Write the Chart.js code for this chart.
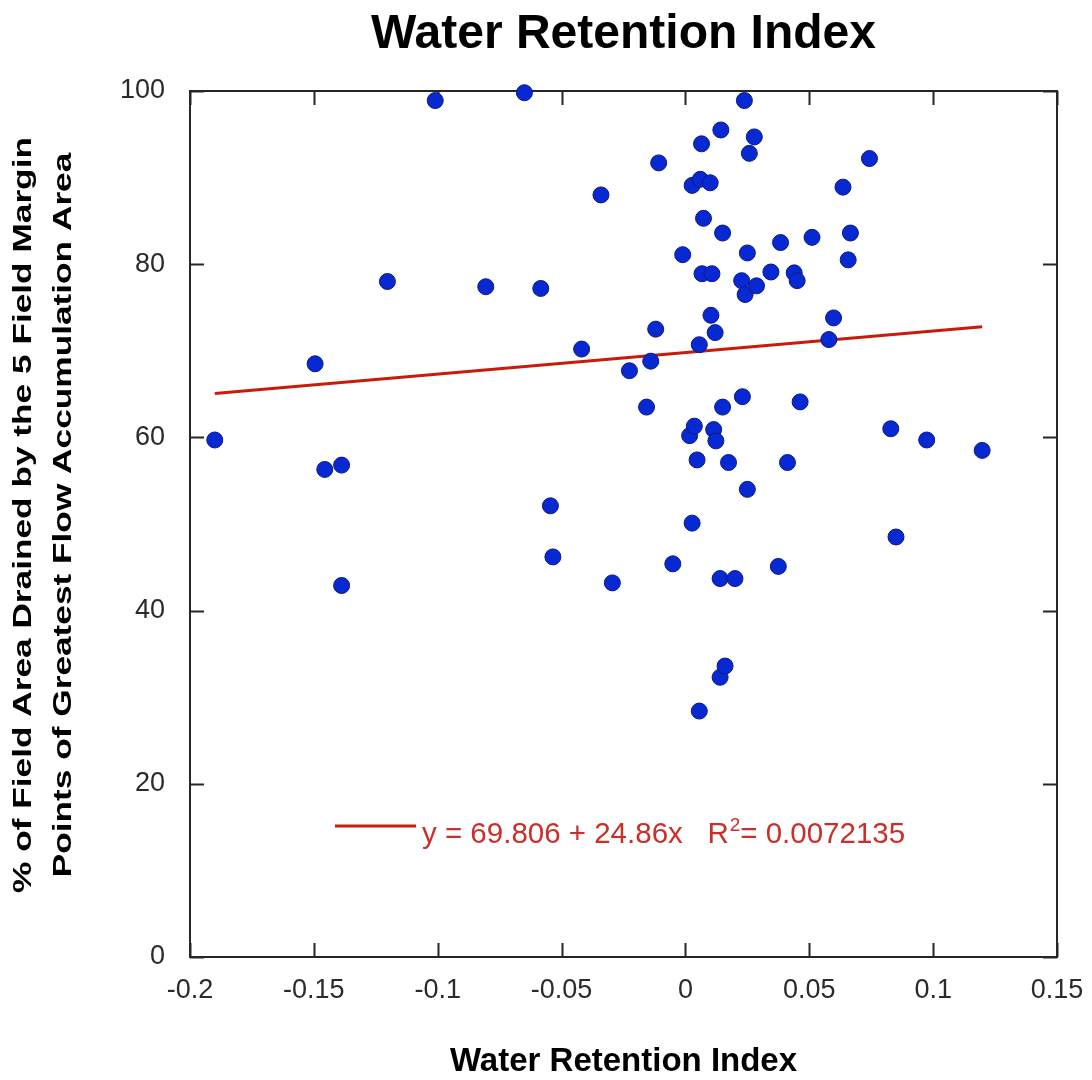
<!DOCTYPE html>
<html>
<head>
<meta charset="utf-8">
<title>Water Retention Index</title>
<script src="https://cdn.jsdelivr.net/npm/chart.js@4.4.0/dist/chart.umd.min.js"></script>
<style>
  html, body { margin: 0; padding: 0; background: #ffffff; }
  #wrap { width: 1092px; height: 1080px; }
</style>
</head>
<body>
<div id="wrap"><canvas id="chart" width="1092" height="1080"></canvas></div>
<script>
// Water Retention Index per field (x) and % of field area drained (y)
const X_VALUES = [
  -0.190, -0.1495, -0.1456, -0.1388, -0.1388, -0.1203, -0.101, -0.0806, -0.065, -0.0584,
  -0.0545, -0.0535, -0.0419, -0.0341, -0.0295, -0.0226, -0.0157, -0.014, -0.012, -0.0108,
  -0.0051, -0.0011, 0.0017, 0.0027, 0.0027, 0.0036, 0.0047, 0.0056, 0.0056, 0.006,
  0.0065, 0.0067, 0.0073, 0.010, 0.0103, 0.0107, 0.0114, 0.012, 0.0123, 0.014,
  0.014, 0.0143, 0.015, 0.015, 0.016, 0.0174, 0.020, 0.0227, 0.023, 0.0238,
  0.0241, 0.025, 0.025, 0.0258, 0.0278, 0.0287, 0.0345, 0.0375, 0.0384, 0.0412,
  0.0439, 0.0451, 0.0463, 0.0511, 0.0579, 0.0598, 0.0636, 0.0657, 0.0666, 0.0743,
  0.0829, 0.085, 0.0974, 0.1198
];
const Y_VALUES = [
  59.7, 68.5, 56.3, 56.8, 42.9, 78.0, 98.9, 77.4, 99.8, 77.2,
  52.1, 46.2, 70.2, 88.0, 43.2, 67.7, 63.5, 68.8, 72.5, 91.7,
  45.4, 81.1, 60.2, 50.1, 89.1, 61.3, 57.4, 70.7, 28.4, 89.8,
  93.9, 78.9, 85.3, 89.4, 74.1, 78.9, 60.9, 72.1, 59.6, 43.7,
  32.3, 95.5, 83.6, 63.5, 33.6, 57.1, 43.7, 78.1, 64.7, 98.9,
  76.5, 81.3, 54.0, 92.8, 94.7, 77.5, 79.1, 45.1, 82.5, 57.1,
  79.0, 78.1, 64.1, 83.1, 71.3, 73.8, 88.9, 80.5, 83.6, 92.2,
  61.0, 48.5, 59.7, 58.5
];

// Axis ticks
const X_TICKS = [-0.2, -0.15, -0.1, -0.05, 0, 0.05, 0.1, 0.15];
const X_TICK_LABELS = ['-0.2', '-0.15', '-0.1', '-0.05', '0', '0.05', '0.1', '0.15'];
const Y_TICKS = [0, 20, 40, 60, 80, 100];
const Y_TICK_LABELS = ['0', '20', '40', '60', '80', '100'];

// Linear fit reported in the legend
const FIT_INTERCEPT = 69.806;
const FIT_SLOPE = 24.86;
const FIT_R2 = '0.0072135';

const TITLE = 'Water Retention Index';
const X_TITLE = 'Water Retention Index';
const Y_TITLE = ['% of Field Area Drained by the 5 Field Margin', 'Points of Greatest Flow Accumulation Area'];

const FONT = "'Liberation Sans', Arial, Helvetica, sans-serif";
const POINT_FILL = '#0828d2';
const POINT_EDGE = '#0a1a8c';
const FIT_COLOR = '#c81b0c';
const LEGEND_TEXT = '#c9302a';

const points = X_VALUES.map((x, i) => ({ x: x, y: Y_VALUES[i] }));
const xMin = Math.min(...X_VALUES);
const xMax = Math.max(...X_VALUES);
const fitLine = [xMin, xMax].map(x => ({ x: x, y: FIT_INTERCEPT + FIT_SLOPE * x }));

Chart.defaults.font.family = FONT;

// Plot frame with inward tick marks on all four sides
const framePlugin = {
  id: 'frame',
  beforeDatasetsDraw(chart) {
    const { ctx, chartArea: { left, right, top, bottom }, scales: { x, y } } = chart;
    const L = 14;
    ctx.save();
    ctx.strokeStyle = '#262626';
    ctx.lineWidth = 2;
    ctx.strokeRect(left, top, right - left, bottom - top);
    ctx.beginPath();
    x.ticks.forEach(t => {
      const px = Math.round(x.getPixelForValue(t.value)) + 0.5;
      ctx.moveTo(px, bottom); ctx.lineTo(px, bottom - L);
      ctx.moveTo(px, top); ctx.lineTo(px, top + L);
    });
    y.ticks.forEach(t => {
      const py = Math.round(y.getPixelForValue(t.value)) + 0.5;
      ctx.moveTo(left, py); ctx.lineTo(left + L, py);
      ctx.moveTo(right, py); ctx.lineTo(right - L, py);
    });
    ctx.stroke();
    ctx.restore();
  }
};

// Two-line rotated y-axis title, drawn slightly elongated along its run
const yTitlePlugin = {
  id: 'yTitle',
  afterDraw(chart) {
    const { ctx, chartArea: { top, bottom } } = chart;
    const cy = (top + bottom) / 2 - 9;
    const stretch = 1.33;
    ctx.save();
    ctx.fillStyle = '#000000';
    ctx.font = "bold 26.5px " + FONT;
    ctx.textAlign = 'center';
    ctx.textBaseline = 'middle';
    [23, 63].forEach((cx, i) => {
      ctx.save();
      ctx.translate(cx, cy);
      ctx.rotate(-Math.PI / 2);
      ctx.scale(stretch, 1);
      ctx.fillText(Y_TITLE[i], 0, 1);
      ctx.restore();
    });
    ctx.restore();
  }
};

// Legend for the fitted line, placed inside the plot
const fitLegendPlugin = {
  id: 'fitLegend',
  afterDatasetsDraw(chart) {
    const { ctx, chartArea: { left, top } } = chart;
    const y0 = top + 735;
    ctx.save();
    ctx.strokeStyle = FIT_COLOR;
    ctx.lineWidth = 3;
    ctx.beginPath();
    ctx.moveTo(left + 145, y0);
    ctx.lineTo(left + 226, y0);
    ctx.stroke();

    ctx.fillStyle = LEGEND_TEXT;
    ctx.textBaseline = 'alphabetic';
    ctx.textAlign = 'left';
    const base = y0 + 17;
    let tx = left + 232;
    const main = 'y = ' + FIT_INTERCEPT + ' + ' + FIT_SLOPE + 'x   R';
    ctx.font = '29.5px ' + FONT;
    ctx.fillText(main, tx, base);
    tx += ctx.measureText(main).width;
    ctx.font = '19px ' + FONT;
    ctx.fillText('2', tx + 1, base - 12);
    tx += ctx.measureText('2').width + 1;
    ctx.font = '29.5px ' + FONT;
    ctx.fillText('= ' + FIT_R2, tx, base);
    ctx.restore();
  }
};

new Chart(document.getElementById('chart'), {
  data: {
    datasets: [
      {
        type: 'scatter',
        label: 'Fields',
        data: points,
        backgroundColor: POINT_FILL,
        borderColor: POINT_EDGE,
        borderWidth: 1,
        pointRadius: 8,
        pointHoverRadius: 8,
        clip: false,
        order: 1
      },
      {
        type: 'line',
        label: 'Fit',
        data: fitLine,
        borderColor: FIT_COLOR,
        borderWidth: 3,
        pointRadius: 0,
        fill: false,
        tension: 0,
        clip: false,
        order: 2
      }
    ]
  },
  options: {
    responsive: false,
    animation: false,
    devicePixelRatio: 1,
    layout: { padding: { left: 0, right: 35, top: 0, bottom: 0 } },
    plugins: {
      legend: { display: false },
      tooltip: { enabled: false },
      title: {
        display: true,
        text: TITLE,
        fullSize: false,
        color: '#000000',
        font: { size: 48, weight: 'bold', family: FONT, lineHeight: 1.2 },
        padding: { top: 6, bottom: 27.4 }
      }
    },
    scales: {
      x: {
        type: 'linear',
        position: 'bottom',
        min: -0.2,
        max: 0.15,
        afterBuildTicks: s => { s.ticks = X_TICKS.map(v => ({ value: v })); },
        afterFit: s => { s.height = 123; s.paddingLeft = 0; s.paddingRight = 0; },
        ticks: {
          callback: (v, i) => X_TICK_LABELS[i],
          color: '#2a2a2a',
          font: { size: 27 },
          padding: 17,
          maxRotation: 0,
          autoSkip: false
        },
        grid: { display: false, drawTicks: false },
        border: { display: false },
        title: {
          display: true,
          text: X_TITLE,
          color: '#000000',
          font: { size: 33, weight: 'bold', lineHeight: 1 },
          padding: { top: 0, bottom: 2 }
        }
      },
      y: {
        type: 'linear',
        position: 'left',
        min: 0,
        max: 100,
        afterBuildTicks: s => { s.ticks = Y_TICKS.map(v => ({ value: v })); },
        afterFit: s => { s.width = 190; s.paddingTop = 0; s.paddingBottom = 0; },
        ticks: {
          callback: (v, i) => Y_TICK_LABELS[i],
          color: '#2a2a2a',
          font: { size: 27 },
          padding: 25
        },
        grid: { display: false, drawTicks: false },
        border: { display: false },
        title: { display: false }
      }
    }
  },
  plugins: [framePlugin, fitLegendPlugin, yTitlePlugin]
});
</script>
</body>
</html>
